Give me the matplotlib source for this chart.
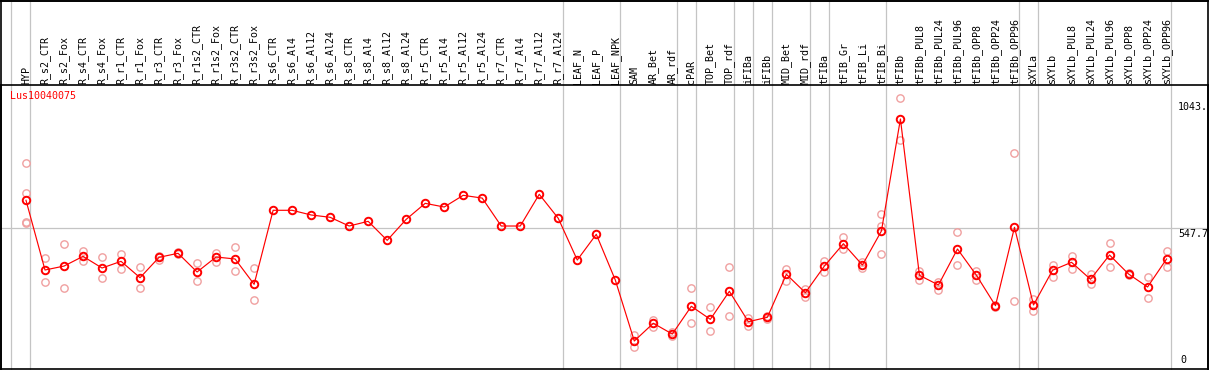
import matplotlib
matplotlib.use("Agg")
import matplotlib.pyplot as plt
from matplotlib.transforms import blended_transform_factory
from matplotlib.lines import Line2D

samples = ["HYP", "R_s2_CTR", "R_s2_Fox", "R_s4_CTR", "R_s4_Fox", "R_r1_CTR", "R_r1_Fox",
           "R_r3_CTR", "R_r3_Fox", "R_r1s2_CTR", "R_r1s2_Fox", "R_r3s2_CTR", "R_r3s2_Fox",
           "R_s6_CTR", "R_s6_Al4", "R_s6_Al12", "R_s6_Al24", "R_s8_CTR", "R_s8_Al4",
           "R_s8_Al12", "R_s8_Al24", "R_r5_CTR", "R_r5_Al4", "R_r5_Al12", "R_r5_Al24",
           "R_r7_CTR", "R_r7_Al4", "R_r7_Al12", "R_r7_Al24", "LEAF_N", "LEAF_P", "LEAF_NPK",
           "SAM", "AR_Bet", "AR_rdf", "cPAR", "TOP_Bet", "TOP_rdf", "iFIBa", "iFIBb",
           "MID_Bet", "MID_rdf", "tFIBa", "tFIB_Gr", "tFIB_Li", "tFIB_Bi", "tFIBb",
           "tFIBb_PUL8", "tFIBb_PUL24", "tFIBb_PUL96", "tFIBb_OPP8", "tFIBb_OPP24",
           "tFIBb_OPP96", "sXYLa", "sXYLb", "sXYLb_PUL8", "sXYLb_PUL24", "sXYLb_PUL96",
           "sXYLb_OPP8", "sXYLb_OPP24", "sXYLb_OPP96"]

means = [654.6, 389, 404, 441, 396.6, 422, 359.7, 437.4, 452.6, 381.4, 438.5, 431, 334.5,
         616.5, 616.5, 598.6, 589.8, 556.6, 574.5, 502, 582, 643, 629, 673.6, 663,
         556.6, 556.6, 677.4, 586, 427, 525, 351,
         118.5, 186, 145, 250.7, 201, 307.8, 192, 208.8, 372.6, 302.5, 404, 489.2, 408,
         537.6, 964.3, 368.8, 331.9, 469, 368.8, 253, 551.7, 255.7, 387.9, 418.3, 353.6,
         446.2, 373.8, 324.2, 430.9]

replicates = [[795.5, 681.2, 573, 567], [433.6, 342], [487, 320], [462.5, 424.4], [438.5, 358.5],
              [449, 391.7], [399.3, 319.3], [443.5, 427], [458.7, 450], [415.7, 346],
              [452.6, 420.6], [475.5, 385], [395.5, 273.6],
              [], [], [], [], [], [], [], [], [], [], [], [], [], [], [], [], [], [], [],
              [141.4, 96.8], [198.5, 170.7], [154, 137.5], [319.3, 186], [247, 156.6],
              [399.3, 212.6], [205, 175.6], [213.7, 203.5], [392.8, 347], [315.5, 287.3],
              [423.3, 380.2], [516, 467.9], [420.6, 397.8], [601.2, 557.8, 448.8],
              [1043, 884.3], [386.3, 350.9], [344.4, 314], [532.6, 406.9], [386.3, 352],
              [255.7, 249.2], [833.6, 269.7], [278.5, 234], [409.2, 363.5], [442.3, 391.7],
              [372.6, 336.8], [490.7, 400.4], [378.7, 368.8], [362.3, 281.2], [461.4, 400.4]]

group_ends = [-1, 0, 28, 31, 34, 35, 37, 38, 39, 41, 42, 45, 52, 53, 60]
ref_value = 547.7
max_label = "1043."
mid_label = "547.7"
gene = "Lus10040075"

W, H = 1209, 370
fig = plt.figure(figsize=(W / 100, H / 100), dpi=100)
fig.patch.set_facecolor("white")

# plot area: y from 85 to 369 px, x from 1 to 1208 px
ax = fig.add_axes([1 / W, 1 / H, 1207 / W, 284 / H])
ax.set_xlim(-1.315, 62.18)
ax.set_ylim(11.8, 1093.9)
ax.set_xticks([])
ax.set_yticks([])
for s in ax.spines.values():
    s.set_color("black")
    s.set_linewidth(1.2)

mono = "DejaVu Sans Mono"
fs = 7.2
grey = "#c4c4c4"

blend = blended_transform_factory(ax.transData, fig.transFigure)

# group separators spanning header and plot
for g in group_ends:
    xg = g + 0.225
    ax.plot([xg, xg], [0, 1], transform=blend, color=grey, lw=0.9, clip_on=False, zorder=0.5)

ax.axhline(ref_value, color=grey, lw=0.9, zorder=0.5)

# outer frame lines over the header
fig.add_artist(Line2D([0.5 / W, 1 - 0.5 / W], [1 - 0.6 / H, 1 - 0.6 / H], color="black", lw=1.4,
                      transform=fig.transFigure))
fig.add_artist(Line2D([1.2 / W, 1.2 / W], [0, 1], color="black", lw=1.2, transform=fig.transFigure))
fig.add_artist(Line2D([1 - 1.2 / W, 1 - 1.2 / W], [0, 1], color="black", lw=1.2,
                      transform=fig.transFigure))

# header labels
for i, name in enumerate(samples):
    ax.text(i, 1 - 84 / H, name, transform=blend, rotation=90, ha="center", va="bottom",
            fontsize=fs, family=mono, color="black", clip_on=False)

xs = list(range(len(samples)))

# replicate points
for i, reps in enumerate(replicates):
    if reps:
        ax.plot([i] * len(reps), reps, linestyle="none", marker="o", ms=5.3, mfc="none",
                mec="#f0a0a0", mew=1.0, zorder=2)

ax.plot(xs, means, color="red", lw=0.85, zorder=3)
ax.plot(xs, means, linestyle="none", marker="o", ms=5.4, mfc="none", mec="red", mew=1.4, zorder=4)

# gene name
ax.text(-0.85, 1 - 6 / 284, gene, transform=blended_transform_factory(ax.transData, ax.transAxes),
        color="red", fontsize=fs, family=mono, ha="left", va="top")

# value labels on the right
xl = len(samples) - 1 + 0.6
ax.annotate(max_label, (xl, max(max(r) for r in replicates if r)), xytext=(0, -2.5),
            textcoords="offset points", fontsize=fs, family=mono, ha="left", va="top")
ax.annotate(mid_label, (xl, ref_value), xytext=(0, -0.5), textcoords="offset points",
            fontsize=fs, family=mono, ha="left", va="top")
ax.annotate("0", (xl + 0.12, 0), xytext=(0, 5), textcoords="offset points",
            fontsize=fs, family=mono, ha="left", va="bottom", annotation_clip=False)

fig.savefig("out.png", dpi=100, facecolor="white")
